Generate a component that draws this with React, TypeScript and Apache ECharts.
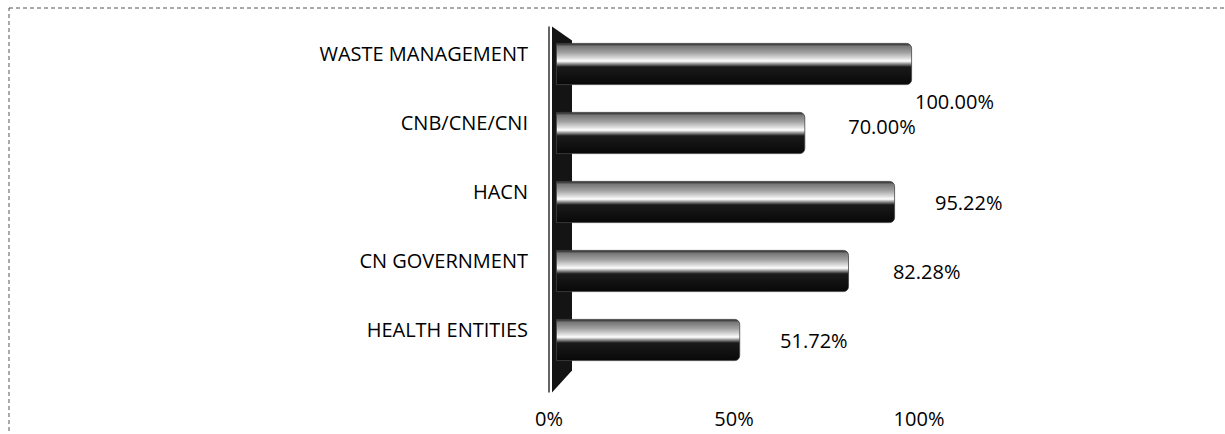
import React, { useEffect, useRef } from "react";
import * as echarts from "echarts";

const categories = ["WASTE MANAGEMENT", "CNB/CNE/CNI", "HACN", "CN GOVERNMENT", "HEALTH ENTITIES"];
const values = [100, 70, 95.22, 82.28, 51.72];
const xMin = 0;
const xMax = 100;
const xInterval = 50;

// label nudges (style only, not data)
const labelOffsets: [number, number][] = [[-37, 37], [3, -7], [0, 0], [4, 0], [0, 0]];

const FONT = "'Open Sans', 'DejaVu Sans', sans-serif";

export default function App() {
  const ref = useRef<HTMLDivElement>(null);
  useEffect(() => {
    if (!ref.current) return;
    const chart = echarts.init(ref.current, undefined, { renderer: "svg" });
    const cyl = new echarts.graphic.LinearGradient(0, 0, 0, 1, [
      { offset: 0, color: "#222" },
      { offset: 0.07, color: "#777" },
      { offset: 0.22, color: "#a0a0a0" },
      { offset: 0.36, color: "#dcdcdc" },
      { offset: 0.43, color: "#ffffff" },
      { offset: 0.5, color: "#8a8a8a" },
      { offset: 0.57, color: "#1a1a1a" },
      { offset: 1, color: "#080808" },
    ]);
    chart.setOption({
      animation: false,
      backgroundColor: "#ffffff",
      textStyle: { fontFamily: FONT },
      graphic: [
        {
          type: "rect",
          shape: { x: 9, y: 8, width: 1400, height: 600 },
          style: { fill: "none", stroke: "#555", lineWidth: 1, lineDash: [4, 3] },
          silent: true,
        },
      ],
      grid: [
        { left: 556, right: 313, top: 29.5, bottom: 59.5 },
        { left: 549, right: 306, top: 29.5, bottom: 59.5 },
      ],
      xAxis: [
        {
          gridIndex: 0,
          type: "value",
          min: xMin,
          max: xMax,
          interval: xInterval,
          axisLabel: { show: false },
          axisLine: { show: false },
          axisTick: { show: false },
          splitLine: { show: false },
        },
        {
          gridIndex: 1,
          type: "value",
          min: xMin,
          max: xMax,
          interval: xInterval,
          axisLabel: {
            formatter: "{value}%",
            fontSize: 20,
            color: "#000",
            margin: 34,
            fontFamily: FONT,
          },
          axisLine: { show: false },
          axisTick: { show: false },
          splitLine: { show: false },
        },
      ],
      yAxis: [
        {
          gridIndex: 0,
          type: "category",
          data: categories,
          inverse: true,
          axisLine: { show: false },
          axisTick: { show: false },
          axisLabel: {
            fontSize: 20,
            color: "#000",
            margin: 28,
            verticalAlign: "bottom",
            lineHeight: 22,
            fontFamily: FONT,
          },
        },
        {
          gridIndex: 1,
          type: "category",
          data: categories,
          inverse: true,
          show: false,
        },
      ],
      series: [
        {
          type: "custom",
          xAxisIndex: 0,
          yAxisIndex: 0,
          z: 1,
          silent: true,
          data: [[xMin, 0]],
          renderItem: (params: any, api: any) => {
            const band = api.size([0, 1])[1];
            const p0 = api.coord([xMin, 0]);
            const pN = api.coord([xMin, categories.length - 1]);
            const x = p0[0];
            const top = p0[1] - band / 2 - 3;
            const bottom = pN[1] + band / 2 + 18;
            return {
              type: "group",
              children: [
                {
                  type: "polygon",
                  shape: {
                    points: [
                      [x - 4, top],
                      [x + 16, top + 14],
                      [x + 16, bottom - 22],
                      [x - 4, bottom],
                    ],
                  },
                  style: { fill: "#141414" },
                },
                {
                  type: "line",
                  shape: { x1: x - 7, y1: top, x2: x - 7, y2: bottom },
                  style: { stroke: "#333", lineWidth: 1.5 },
                },
              ],
            };
          },
        },
        {
          type: "bar",
          xAxisIndex: 0,
          yAxisIndex: 0,
          z: 3,
          barWidth: 42,
          data: values.map((v, i) => ({
            value: v,
            label: { offset: labelOffsets[i] },
          })),
          itemStyle: {
            color: cyl,
            borderRadius: [0, 5, 5, 0],
            borderColor: "#444",
            borderWidth: 0.8,
          },
          label: {
            show: true,
            position: "right",
            distance: 40,
            fontSize: 20,
            color: "#000",
            fontFamily: FONT,
            formatter: (p: any) => Number(p.value).toFixed(2) + "%",
          },
        },
      ],
    });
    return () => chart.dispose();
  }, []);
  return (
    <div
      ref={ref}
      style={{ position: "fixed", left: 0, top: 0, width: 1225, height: 434 }}
    />
  );
}
